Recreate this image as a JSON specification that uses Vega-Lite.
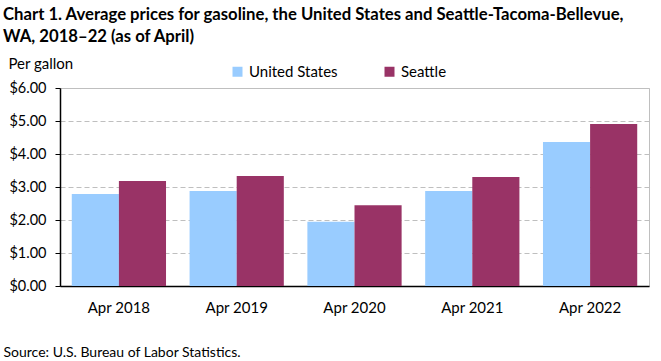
{
  "$schema": "https://vega.github.io/schema/vega-lite/v6.json",
  "width": 589,
  "height": 198,
  "autosize": "none",
  "padding": {"left": 60, "top": 88, "right": 12, "bottom": 75},
  "background": "white",
  "config": {
    "font": "Lato",
    "view": {"stroke": "#bfbfbf", "strokeWidth": 1}
  },
  "title": {
    "text": ["Chart 1. Average prices for gasoline, the United States and Seattle-Tacoma-Bellevue,", "WA, 2018–22 (as of April)"],
    "anchor": "start",
    "frame": "group",
    "dx": -57,
    "fontSize": 16.7,
    "fontWeight": "bold",
    "color": "black",
    "lineHeight": 22,
    "offset": 10
  },
  "data": {
    "values": [
      {"period": "Apr 2018", "area": "United States", "price": 2.79},
      {"period": "Apr 2018", "area": "Seattle", "price": 3.18},
      {"period": "Apr 2019", "area": "United States", "price": 2.88},
      {"period": "Apr 2019", "area": "Seattle", "price": 3.33},
      {"period": "Apr 2020", "area": "United States", "price": 1.95},
      {"period": "Apr 2020", "area": "Seattle", "price": 2.45},
      {"period": "Apr 2021", "area": "United States", "price": 2.88},
      {"period": "Apr 2021", "area": "Seattle", "price": 3.30},
      {"period": "Apr 2022", "area": "United States", "price": 4.36},
      {"period": "Apr 2022", "area": "Seattle", "price": 4.91}
    ]
  },
  "mark": {"type": "bar"},
  "encoding": {
    "x": {
      "field": "period",
      "type": "nominal",
      "scale": {"paddingInner": 0.2, "paddingOuter": 0.1},
      "axis": {
        "title": "Source: U.S. Bureau of Labor Statistics.",
        "titleFont": "Lato",
        "titleFontSize": 14,
        "titleFontWeight": "normal",
        "titleColor": "black",
        "titleAnchor": "start",
        "titleAlign": "left",
        "titleX": -57,
        "titleY": 66,
        "titleBaseline": "middle",
        "labelAngle": 0,
        "labelFontSize": 15,
        "labelColor": "black",
        "labelPadding": 14,
        "ticks": false,
        "domainColor": "black",
        "domainWidth": 1.5
      }
    },
    "xOffset": {"field": "area", "type": "nominal", "sort": ["United States", "Seattle"]},
    "y": {
      "field": "price",
      "type": "quantitative",
      "scale": {"domain": [0, 6], "nice": false},
      "axis": {
        "values": [0, 1, 2, 3, 4, 5, 6],
        "format": "$.2f",
        "title": "Per gallon",
        "titleAngle": 0,
        "titleAlign": "left",
        "titleBaseline": "middle",
        "titleX": -52,
        "titleY": -25,
        "titleFontSize": 15,
        "titleFontWeight": "normal",
        "titleColor": "black",
        "labelFontSize": 14.5,
        "labelColor": "black",
        "labelPadding": 9,
        "tickColor": "black",
        "tickSize": 5,
        "domainColor": "black",
        "domainWidth": 1.5,
        "gridColor": "#bfbfbf",
        "gridDash": [5, 3]
      }
    },
    "color": {
      "field": "area",
      "type": "nominal",
      "sort": ["United States", "Seattle"],
      "scale": {"domain": ["United States", "Seattle"], "range": ["#99ccff", "#993366"]},
      "legend": {
        "title": null,
        "orient": "none",
        "legendX": 170,
        "legendY": -24,
        "direction": "horizontal",
        "symbolType": "square",
        "symbolSize": 100,
        "symbolStrokeWidth": 0,
        "labelFontSize": 15,
        "labelColor": "black",
        "columnPadding": 44
      }
    }
  }
}
